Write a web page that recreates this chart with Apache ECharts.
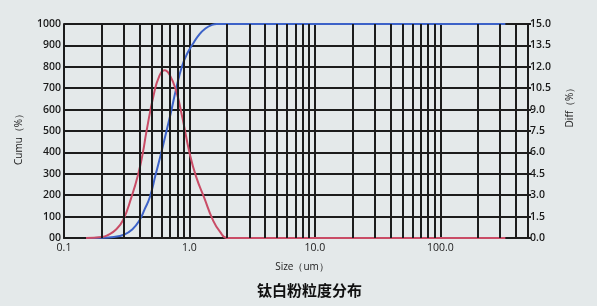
<!DOCTYPE html>
<html>
<head>
<meta charset="utf-8">
<script src="https://cdn.jsdelivr.net/npm/echarts@6/dist/echarts.min.js"></script>
<style>
html,body{margin:0;padding:0;background:#e4e9ea;}
#c{width:597px;height:306px;}
</style>
</head>
<body>
<div id="c"></div>
<script>
// Particle size (um) and cumulative value (left axis, 0-1000)
const cumuData = [
  [0.15,0],[0.2,1],[0.25,5],[0.296,14],[0.35,40],[0.401,84],[0.44,135],[0.482,189],
  [0.537,295],[0.596,398],[0.66,506],[0.717,595],[0.784,698],[0.87,800],[0.96,862],
  [1.06,905],[1.2,952],[1.35,980],[1.5,995],[1.65,1000],[2.0,1000],[5,1000],[20,1000],
  [100,1000],[330,1000]
];
// Particle size (um) and differential value (right axis, %)
const diffData = [
  [0.15,0],[0.2,0.07],[0.224,0.21],[0.26,0.6],[0.296,1.26],
  [0.344,2.83],[0.389,4.42],[0.425,5.97],[0.453,7.4],
  [0.518,10.0],[0.575,11.35],[0.634,11.76],
  [0.695,11.45],[0.784,10.3],[0.88,8.4],[1.0,6.0],
  [1.13,4.3],[1.315,2.8],[1.53,1.3],[1.75,0.45],
  [2.0,0],[5,0],[20,0],[100,0],[330,0]
];
// Minor log grid positions
const minorGrid = [0.2,0.3,0.4,0.5,0.6,0.7,0.8,0.9,2,3,4,5,6,7,8,9,20,30,40,50,60,70,80,90,200,300,400];
// X tick labels shown
const xTickValues = [0.1,1,10,100];
const xTickLabels = ['0.1','1.0','10.0','100.0'];

const FONT = 'Open Sans';
const GRIDC = '#1c1c1c';

const chart = echarts.init(document.getElementById('c'));
chart.setOption({
  backgroundColor: '#e4e9ea',
  animation: false,
  title: {
    text: '钛白粉粒度分布',
    left: 252, top: 278,
    textStyle: {fontFamily: 'Noto Sans CJK SC', fontSize: 15, fontWeight: 'bold', color: '#111'}
  },
  grid: {left: 64, right: 69, top: 24, bottom: 68},
  xAxis: {
    type: 'log', min: 0.1, max: 500, logBase: 10,
    name: 'Size（um）', nameLocation: 'middle', nameGap: 24,
    nameTextStyle: {fontFamily: FONT, fontSize: 10, color: '#222', padding: [0,0,0,12]},
    axisLine: {show: true, lineStyle: {color: GRIDC, width: 2}},
    axisTick: {show: false},
    splitLine: {show: true, lineStyle: {color: GRIDC, width: 2}},
    axisLabel: {
      fontFamily: FONT, fontSize: 10.5, color: '#1a1a1a', margin: 5,
      formatter: function (v) {
        for (let i = 0; i < xTickValues.length; i++) {
          if (Math.abs(v - xTickValues[i]) / xTickValues[i] < 1e-6) return xTickLabels[i];
        }
        return '';
      }
    }
  },
  yAxis: [{
    type: 'value', min: 0, max: 1000, interval: 100,
    name: 'Cumu（%）', nameLocation: 'middle', nameGap: 40, nameRotate: 90,
    nameTextStyle: {fontFamily: FONT, fontSize: 10, color: '#222', padding: [0,12,0,0]},
    axisLine: {show: true, lineStyle: {color: GRIDC, width: 2}},
    axisTick: {show: false},
    splitLine: {show: true, lineStyle: {color: GRIDC, width: 2}},
    axisLabel: {
      fontFamily: FONT, fontSize: 10.5, fontWeight: 600, color: '#1a1a1a', margin: 3,
      formatter: function (v) { return v === 0 ? '00' : String(v); }
    }
  }, {
    type: 'value', min: 0, max: 15, interval: 1.5, position: 'right',
    name: 'Diff（%）', nameLocation: 'middle', nameGap: 37, nameRotate: 90,
    nameTextStyle: {fontFamily: FONT, fontSize: 10, color: '#222', padding: [0,0,0,52]},
    axisLine: {show: true, lineStyle: {color: GRIDC, width: 2}},
    axisTick: {show: true, length: 3, lineStyle: {color: GRIDC, width: 2}},
    splitLine: {show: false},
    axisLabel: {
      fontFamily: FONT, fontSize: 10.5, fontWeight: 600, color: '#1a1a1a', margin: 2,
      formatter: function (v) { return v.toFixed(1); }
    }
  }],
  series: [{
    type: 'line', data: [[0.1, 0]], symbol: 'none', z: 1, silent: true,
    lineStyle: {opacity: 0},
    markLine: {
      silent: true, symbol: ['none','none'], animation: false,
      label: {show: false},
      lineStyle: {color: GRIDC, width: 2, type: 'solid'},
      data: minorGrid.map(v => ({xAxis: v}))
    }
  }, {
    name: 'Cumu', type: 'line', yAxisIndex: 0, data: cumuData, smooth: 0.5,
    symbol: 'none', z: 3, lineStyle: {color: '#3c62c8', width: 2}
  }, {
    name: 'Diff', type: 'line', yAxisIndex: 1, data: diffData, smooth: 0.5,
    symbol: 'none', z: 4, lineStyle: {color: '#c94c66', width: 2}
  }]
});
</script>
</body>
</html>
